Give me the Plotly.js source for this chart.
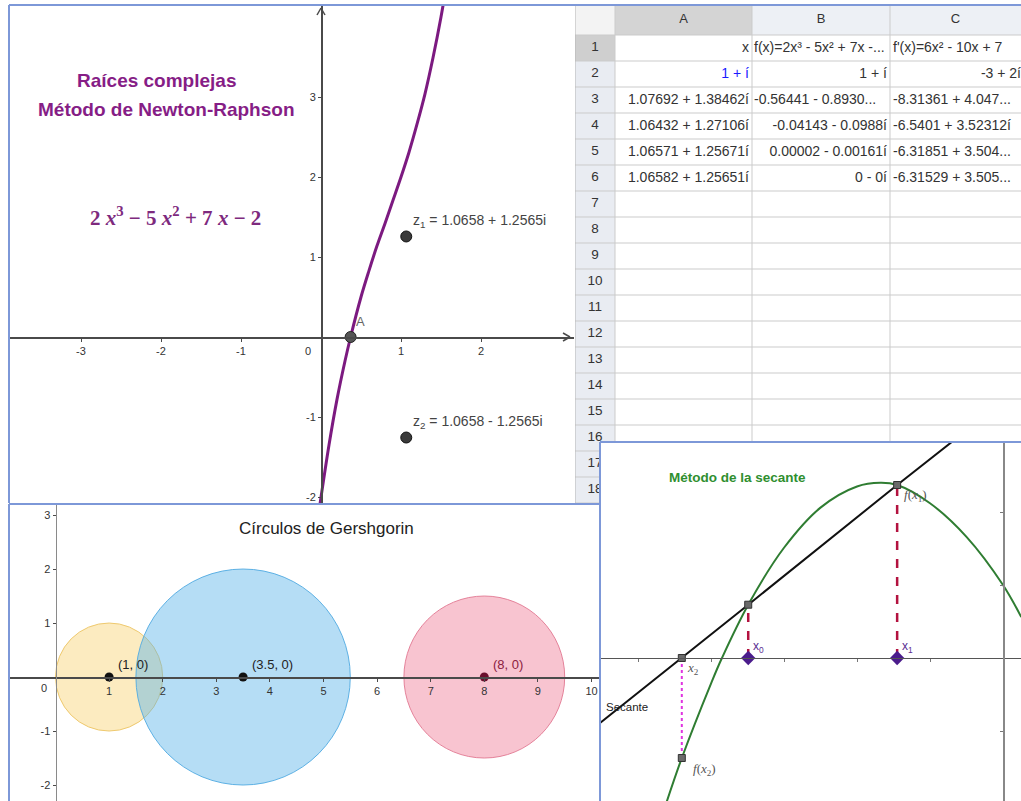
<!DOCTYPE html>
<html>
<head>
<meta charset="utf-8">
<script src="https://cdn.plot.ly/plotly-3.0.1.min.js"></script>
<style>
  html, body { margin: 0; padding: 0; background: #fff; }
  #chart { width: 1021px; height: 801px; }
</style>
</head>
<body>
<div id="chart"></div>
<script>
// ---- Newton-Raphson panel ----
var curveX = [-0.02, 0.1, 0.2, 0.3, 0.37, 0.5, 0.6, 0.7, 0.8, 0.9, 1.0, 1.1, 1.2, 1.3, 1.4, 1.5, 1.55];
var curveY = [-2.14, -1.35, -0.78, -0.3, 0, 0.5, 0.83, 1.14, 1.42, 1.71, 2.0, 2.31, 2.66, 3.04, 3.49, 4.0, 4.29];
var rootsX = [1.0658, 1.0658];
var rootsY = [1.2565, -1.2565];
var rootLabels = ['z<sub>1</sub> = 1.0658 + 1.2565i', 'z<sub>2</sub> = 1.0658 - 1.2565i'];
var realRootX = [0.37];
var realRootY = [0];

// ---- spreadsheet ----
var colHeaders = ['A', 'B', 'C'];
var rowNumbers = [1, 2, 3, 4, 5, 6, 7, 8, 9, 10, 11, 12, 13, 14, 15, 16, 17, 18];
var cellsA = ['x', '1 + í', '1.07692 + 1.38462í', '1.06432 + 1.27106í', '1.06571 + 1.25671í', '1.06582 + 1.25651í'];
var cellsB = ['f(x)=2x³ - 5x² + 7x -...', '1 + í', '-0.56441 - 0.8930...', '-0.04143 - 0.0988í', '0.00002 - 0.00161í', '0 - 0í'];
var cellsC = ["f'(x)=6x² - 10x + 7", '-3 + 2í', '-8.31361 + 4.047...', '-6.5401 + 3.52312í', '-6.31851 + 3.504...', '-6.31529 + 3.505...'];

// ---- Gershgorin circles ----
var centersX = [1, 3.5, 8];
var centersY = [0, 0, 0];
var radii = [1, 2, 1.5];
var centerLabels = ['(1, 0)', '(3.5, 0)', '(8, 0)'];

// ---- secant method ----
var parabolaX = [-4.62, -4.4, -4.0, -3.85, -3.49, -3.0, -2.5, -2.0, -1.68, -1.45, -1.0, -0.5, 0, 0.25];
var parabolaY = [-2.01, -1.37, -0.35, 0, 0.73, 1.51, 2.06, 2.35, 2.40, 2.37, 2.12, 1.66, 1.0, 0.56];
var secantX = [-5.52, -4.4, -3.49, -1.45, -0.65];
var secantY = [-0.89, 0, 0.73, 2.37, 3.0];
var iterX = [-3.49, -1.45, -4.4];   // x0, x1, x2
var iterF = [0.73, 2.37, -1.37];    // f(x0), f(x1), f(x2)

var W = 1021, H = 801;
function px(x) { return x / W; }
function py(y) { return 1 - y / H; }

var sans = 'Liberation Sans, Arial, sans-serif';
var serif = 'Liberation Serif, DejaVu Serif, serif';
var purple = '#861d86';
var frameBlue = '#7d98d8';

var data = [];
var shapes = [];
var annotations = [];

function label(opts) {
    // annotations default to centred, no arrow
    var a = {showarrow: false, xanchor: 'center', yanchor: 'middle'};
    for (var key in opts) { a[key] = opts[key]; }
    annotations.push(a);
}

// Newton panel
data.push({
    x: curveX, y: curveY, xaxis: 'x', yaxis: 'y', mode: 'lines', type: 'scatter',
    line: {color: '#7c1a80', width: 3, shape: 'spline'}, hoverinfo: 'skip'
});
data.push({
    x: rootsX, y: rootsY, xaxis: 'x', yaxis: 'y', mode: 'markers', type: 'scatter',
    marker: {color: '#3a3a3a', size: 11, line: {color: '#111', width: 1}}
});
data.push({
    x: realRootX, y: realRootY, xaxis: 'x', yaxis: 'y', mode: 'markers', type: 'scatter',
    marker: {color: '#555', size: 11, line: {color: '#222', width: 1}}
});
for (var i = 0; i < rootsX.length; i++) {
    label({xref: 'x', yref: 'y', x: rootsX[i] + 0.06, y: rootsY[i] + 0.19, xanchor: 'left',
        text: rootLabels[i], font: {family: sans, size: 14, color: '#444'}});
}
label({xref: 'x', yref: 'y', x: realRootX[0] + 0.04, y: 0.19, xanchor: 'left', text: 'A',
    font: {family: sans, size: 13, color: '#666'}});
label({xref: 'x', yref: 'y', x: -0.16, y: -0.17, text: '0', font: {family: sans, size: 11, color: '#333'}});
label({xref: 'paper', yref: 'paper', x: px(156), y: py(80), text: '<b>Raíces complejas</b>',
    font: {family: sans, size: 19, color: purple}});
label({xref: 'paper', yref: 'paper', x: px(166), y: py(109), text: '<b>Método de Newton-Raphson</b>',
    font: {family: sans, size: 19, color: purple}});
label({xref: 'paper', yref: 'paper', x: px(175), y: py(216),
    text: '<b>2 <i>x</i><sup>3</sup> − 5 <i>x</i><sup>2</sup> + 7 <i>x</i> − 2</b>',
    font: {family: serif, size: 21, color: '#7e2a7e'}});

// spreadsheet (drawn on its own subplot so the secant panel covers it)
var colEdges = [575, 615, 752, 890];
function rowTop(n) { return 35 + 26 * (n - 1); }
function rowMid(n) { return rowTop(n) + 13; }

shapes.push({type: 'rect', xref: 'x2', yref: 'y2', x0: 575, x1: 1021, y0: 5, y1: 35, fillcolor: '#edf0f5', line: {width: 0}, layer: 'below'});
shapes.push({type: 'rect', xref: 'x2', yref: 'y2', x0: 575, x1: 615, y0: 5, y1: 35, fillcolor: '#f3f3f3', line: {width: 0}, layer: 'below'});
shapes.push({type: 'rect', xref: 'x2', yref: 'y2', x0: 615, x1: 752, y0: 5, y1: 35, fillcolor: '#d4d4d4', line: {width: 0}, layer: 'below'});
shapes.push({type: 'rect', xref: 'x2', yref: 'y2', x0: 575, x1: 615, y0: 35, y1: 503, fillcolor: '#e9ecf2', line: {width: 0}, layer: 'below'});
shapes.push({type: 'rect', xref: 'x2', yref: 'y2', x0: 575, x1: 615, y0: rowTop(1), y1: rowTop(2), fillcolor: '#cfcfcf', line: {width: 0}, layer: 'below'});
for (var r = 0; r <= rowNumbers.length; r++) {
    shapes.push({type: 'line', xref: 'x2', yref: 'y2', x0: 575, x1: 1021, y0: rowTop(r + 1), y1: rowTop(r + 1),
        line: {color: '#cbcbcb', width: 1}, layer: 'below'});
}
for (var c = 0; c < colEdges.length; c++) {
    shapes.push({type: 'line', xref: 'x2', yref: 'y2', x0: colEdges[c], x1: colEdges[c], y0: 5, y1: 503,
        line: {color: c === 0 ? '#b5b5b5' : '#cbcbcb', width: 1}, layer: 'below'});
}

data.push({
    x: [683.5, 821, 955.5], y: [20, 20, 20], text: colHeaders, xaxis: 'x2', yaxis: 'y2',
    mode: 'text', type: 'scatter', textposition: 'middle center', hoverinfo: 'skip',
    textfont: {family: sans, size: 13, color: '#333'}
});
data.push({
    x: rowNumbers.map(function () { return 595; }), y: rowNumbers.map(rowMid),
    text: rowNumbers.map(String), xaxis: 'x2', yaxis: 'y2',
    mode: 'text', type: 'scatter', textposition: 'middle center', hoverinfo: 'skip',
    textfont: {family: sans, size: 13.5, color: '#333'}
});

function cellTrace(texts, aligns, leftX, rightX, colors) {
    var xs = [], ys = [], pos = [];
    for (var i = 0; i < texts.length; i++) {
        var right = aligns[i] === 'right';
        xs.push(right ? rightX : leftX);
        ys.push(rowMid(i + 1));
        pos.push(right ? 'middle left' : 'middle right');
    }
    return {
        x: xs, y: ys, text: texts, xaxis: 'x2', yaxis: 'y2', mode: 'text', type: 'scatter',
        textposition: pos, hoverinfo: 'skip',
        textfont: {family: sans, size: 14, color: colors}
    };
}
data.push(cellTrace(cellsA, ['right', 'right', 'right', 'right', 'right', 'right'], 619, 749,
    ['#333', '#1a1aff', '#333', '#333', '#333', '#333']));
data.push(cellTrace(cellsB, ['left', 'right', 'left', 'right', 'right', 'right'], 754, 887, '#333'));
data.push(cellTrace(cellsC, ['left', 'right', 'left', 'left', 'left', 'left'], 893, 1021, '#333'));

// Gershgorin panel
var fills = ['rgba(248,211,115,0.45)', 'rgba(91,179,233,0.45)', 'rgba(239,124,151,0.45)'];
var edges = ['rgba(236,196,100,0.9)', 'rgba(80,170,225,0.9)', 'rgba(225,120,145,0.9)'];
for (var k = 0; k < centersX.length; k++) {
    shapes.push({
        type: 'circle', xref: 'x3', yref: 'y3', layer: 'below',
        x0: centersX[k] - radii[k], x1: centersX[k] + radii[k],
        y0: centersY[k] - radii[k], y1: centersY[k] + radii[k],
        fillcolor: fills[k], line: {color: edges[k], width: 1}
    });
    label({xref: 'x3', yref: 'y3', x: centersX[k] + 0.12, y: centersY[k] + 0.24, xanchor: 'left',
        text: centerLabels[k], font: {family: sans, size: 13, color: k === 2 ? '#8b2040' : '#222'}});
}
data.push({
    x: centersX, y: centersY, xaxis: 'x3', yaxis: 'y3', mode: 'markers', type: 'scatter',
    marker: {color: ['#111', '#111', '#6a0f2c'], size: 9}
});
label({xref: 'paper', yref: 'paper', x: px(326), y: py(528), text: 'Círculos de Gershgorin',
    font: {family: sans, size: 17, color: '#222'}});
label({xref: 'x3', yref: 'y3', x: -0.22, y: -0.21, text: '0', font: {family: sans, size: 11, color: '#333'}});

// secant panel
data.push({
    x: parabolaX, y: parabolaY, xaxis: 'x4', yaxis: 'y4', mode: 'lines', type: 'scatter',
    line: {color: '#2f7d32', width: 2, shape: 'spline'}, hoverinfo: 'skip'
});
data.push({
    x: secantX, y: secantY, xaxis: 'x4', yaxis: 'y4', mode: 'lines', type: 'scatter',
    line: {color: '#111', width: 2}, hoverinfo: 'skip'
});
data.push({
    x: [iterX[0], iterX[0], null, iterX[1], iterX[1]], y: [0, iterF[0], null, 0, iterF[1]],
    xaxis: 'x4', yaxis: 'y4', mode: 'lines', type: 'scatter',
    line: {color: '#b3123f', width: 2.5, dash: 'dash'}, hoverinfo: 'skip'
});
data.push({
    x: [iterX[2], iterX[2]], y: [0, iterF[2]], xaxis: 'x4', yaxis: 'y4', mode: 'lines', type: 'scatter',
    line: {color: '#e033e0', width: 2, dash: 'dot'}, hoverinfo: 'skip'
});
data.push({
    x: [iterX[0], iterX[1], iterX[2], iterX[2]], y: [iterF[0], iterF[1], 0, iterF[2]],
    xaxis: 'x4', yaxis: 'y4', mode: 'markers', type: 'scatter',
    marker: {symbol: 'square', color: '#6a6a6a', size: 7, line: {color: '#333', width: 1}}
});
data.push({
    x: [iterX[0], iterX[1]], y: [0, 0], xaxis: 'x4', yaxis: 'y4', mode: 'markers', type: 'scatter',
    marker: {symbol: 'diamond', color: '#4b1c8c', size: 11}
});
label({xref: 'paper', yref: 'paper', x: px(737), y: py(477), text: '<b>Método de la secante</b>',
    font: {family: sans, size: 13.5, color: '#2f8f2f'}});
label({xref: 'x4', yref: 'y4', x: iterX[0] + 0.04, y: 0.15, xanchor: 'left', text: 'x<sub>0</sub>',
    font: {family: sans, size: 12, color: '#5a2d91'}});
label({xref: 'x4', yref: 'y4', x: iterX[1] + 0.04, y: 0.15, xanchor: 'left', text: 'x<sub>1</sub>',
    font: {family: sans, size: 12, color: '#5a2d91'}});
label({xref: 'x4', yref: 'y4', x: iterX[1] + 0.07, y: iterF[1] - 0.14, xanchor: 'left',
    text: '<i>f</i>(<i>x</i><sub>1</sub>)', font: {family: serif, size: 13, color: '#555'}});
label({xref: 'x4', yref: 'y4', x: iterX[2] + 0.05, y: -0.15, xanchor: 'left',
    text: '<i>x</i><sub>2</sub>', font: {family: serif, size: 13, color: '#555'}});
label({xref: 'x4', yref: 'y4', x: iterX[2] + 0.12, y: iterF[2] - 0.16, xanchor: 'left',
    text: '<i>f</i>(<i>x</i><sub>2</sub>)', font: {family: serif, size: 13, color: '#555'}});
label({xref: 'paper', yref: 'paper', x: px(604), y: py(707), xanchor: 'left', text: 'Secante',
    font: {family: sans, size: 11.5, color: '#222'}});

// panel frames and axis arrows
function paperLine(x0, y0, x1, y1, color, width) {
    shapes.push({type: 'line', xref: 'paper', yref: 'paper', x0: px(x0), y0: py(y0), x1: px(x1), y1: py(y1),
        line: {color: color, width: width}, layer: 'above'});
}
paperLine(9, 5, 1021, 5, frameBlue, 2);
paperLine(9, 5, 9, 503, frameBlue, 2);
paperLine(9, 504, 600, 504, frameBlue, 2);
paperLine(9, 504, 9, 801, frameBlue, 2);
paperLine(600, 442, 1021, 442, frameBlue, 2);
paperLine(600, 442, 600, 801, frameBlue, 2);
paperLine(321, 8, 317, 15, '#4a4a4a', 1.5);
paperLine(321, 8, 325, 15, '#4a4a4a', 1.5);
paperLine(570, 337, 563, 333, '#4a4a4a', 1.5);
paperLine(570, 337, 563, 341, '#4a4a4a', 1.5);

function freeAxis(domain, range, position, tickvals, extra) {
    var ax = {
        domain: domain, range: range, anchor: 'free', position: position,
        showline: true, linecolor: '#4a4a4a', linewidth: 1.5,
        ticks: 'outside', ticklen: 3, tickcolor: '#4a4a4a', tickwidth: 1,
        tickvals: tickvals, ticktext: tickvals.map(String),
        showgrid: false, zeroline: false, fixedrange: true,
        tickfont: {family: sans, size: 11, color: '#333'}
    };
    for (var key in extra) { ax[key] = extra[key]; }
    return ax;
}

var layout = {
    width: W, height: H,
    margin: {l: 0, r: 0, t: 0, b: 0},
    paper_bgcolor: '#ffffff', plot_bgcolor: '#ffffff',
    showlegend: false,
    xaxis: freeAxis([px(9), px(574)], [-3.9, 3.1625], py(337), [-3, -2, -1, 1, 2], {}),
    yaxis: freeAxis([py(503), py(6)], [-2.075, 4.1375], px(321), [-2, -1, 1, 2, 3], {}),
    xaxis2: {domain: [px(575), 1], range: [575, 1021], anchor: 'y2', visible: false, fixedrange: true},
    yaxis2: {domain: [py(503), py(5)], range: [503, 5], anchor: 'x2', visible: false, fixedrange: true},
    xaxis3: freeAxis([px(9), px(600)], [-0.8675, 10.1586], py(677), [1, 2, 3, 4, 5, 6, 7, 8, 9, 10], {}),
    yaxis3: freeAxis([0, py(504)], [-2.296, 3.204], px(55.5), [-2, -1, 1, 2, 3], {linecolor: '#8a8a8a'}),
    xaxis4: freeAxis([px(600), 1], [-5.5205, 0.2466], py(658), [-5, -4, -3, -2, -1],
        {showticklabels: false, linecolor: '#555', linewidth: 1, tickcolor: '#777'}),
    yaxis4: freeAxis([0, py(442)], [-1.959, 2.959], px(1003), [-1, 1, 2],
        {showticklabels: false, linecolor: '#888', linewidth: 1.5, tickcolor: '#777'}),
    shapes: shapes,
    annotations: annotations
};

Plotly.newPlot('chart', data, layout, {staticPlot: true, displayModeBar: false});
</script>
</body>
</html>
